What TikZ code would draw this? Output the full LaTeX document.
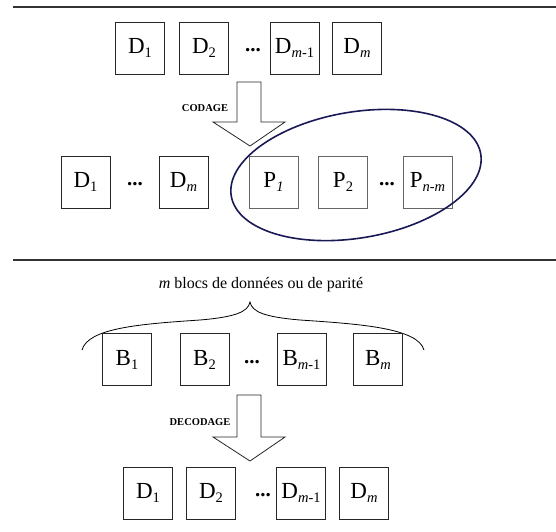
\documentclass[tikz,border=0pt]{standalone}
\usepackage{fontspec}
\setmainfont{Liberation Serif}
\definecolor{ellcol}{RGB}{25,25,85}
\newcommand{\lowsub}[1]{\raisebox{-4pt}{\fontsize{14.5}{14.5}\selectfont #1}}
\begin{document}
\begin{tikzpicture}[x=1pt,y=-1pt,
  blk/.style={draw=black!85, line width=0.8pt, minimum width=49pt, minimum height=52pt, inner sep=0pt, font=\fontsize{23}{23}\selectfont},
  dotsnode/.style={inner sep=0pt, font=\fontsize{21}{21}\selectfont\bfseries},
  lbl/.style={inner sep=0pt, font=\fontsize{10.5}{12}\selectfont\bfseries},
  sep/.style={line width=1.4pt, black!80},
  barrow/.style={draw=black!85, line width=0.8pt, line join=miter}]
\useasboundingbox (0,0) rectangle (556,531);
% separators
\coordinate (s1a) at (13,7); \coordinate (s1b) at (556,7);
\coordinate (s2a) at (13,259.5); \coordinate (s2b) at (556,259.5);
\draw[sep] (s1a) -- (s1b);
\draw[sep, line width=2pt] (s2a) -- (s2b);
% row 1
\node[blk] (a1) at (140,48) {D\lowsub{1}};
\node[blk] (a2) at (204,48) {D\lowsub{2}};
\node[dotsnode] (ad) at (253,50) {...};
\node[blk] (a3) at (294.5,48) {D\lowsub{\textit{m}-1}};
\node[blk] (a4) at (357,48) {D\lowsub{\textit{m}}};
% codage arrow
\draw[barrow] (237,82) -- (261,82) -- (261,122) -- (285,122) -- (250,146) -- (213,122) -- (237,122) -- cycle;
\node[lbl] (cod) at (205,108) {CODAGE};
% row 2
\node[blk] (b1) at (85.5,182) {D\lowsub{1}};
\node[dotsnode] (bd1) at (135,184) {...};
\node[blk] (b2) at (183.5,182) {D\lowsub{\textit{m}}};
\node[blk, draw=black!60] (p1) at (273.5,182) {P\lowsub{\textit{1}}};
\node[blk, draw=black!60] (p2) at (343,182) {P\lowsub{2}};
\node[dotsnode] (bd2) at (387,184) {...};
\node[blk, draw=black!60] (p3) at (427.5,182) {P\lowsub{\textit{n-m}}};
\coordinate (ec) at (356,175);
\draw[ellcol, line width=1.6pt, rotate around={9.6:(ec)}] (ec) ellipse [x radius=126.5pt, y radius=63pt];
% brace and label
\node[inner sep=0pt, font=\fontsize{16}{16}\selectfont] (ttl) at (261,285) {\textit{m} blocs de données ou de parité};
\coordinate (brl) at (82,350); \coordinate (brm) at (250,302); \coordinate (brr) at (424,350);
\draw[line width=0.8pt] (brl) .. controls (88,328) and (140,324) .. (200,320) .. controls (235,317) and (248,312) .. (brm)
  .. controls (252,312) and (265,317) .. (300,320) .. controls (360,324) and (418,328) .. (brr);
% row 3
\node[blk] (c1) at (127,359.5) {B\lowsub{1}};
\node[blk] (c2) at (204.5,359.5) {B\lowsub{2}};
\node[dotsnode] (cd) at (252,362) {...};
\node[blk] (c3) at (301.5,359.5) {B\lowsub{\textit{m}-1}};
\node[blk] (c4) at (378,359.5) {B\lowsub{\textit{m}}};
% decodage arrow
\draw[barrow] (237,395) -- (261,395) -- (261,437) -- (285,437) -- (250,461) -- (213,437) -- (237,437) -- cycle;
\node[lbl] (dec) at (200,422) {DECODAGE};
% row 4
\node[blk] (d1) at (148,493) {D\lowsub{1}};
\node[blk] (d2) at (211,493) {D\lowsub{2}};
\node[dotsnode] (dd) at (263,495) {...};
\node[blk] (d3) at (301,493) {D\lowsub{\textit{m}-1}};
\node[blk] (d4) at (364,493) {D\lowsub{\textit{m}}};
\end{tikzpicture}
\end{document}
